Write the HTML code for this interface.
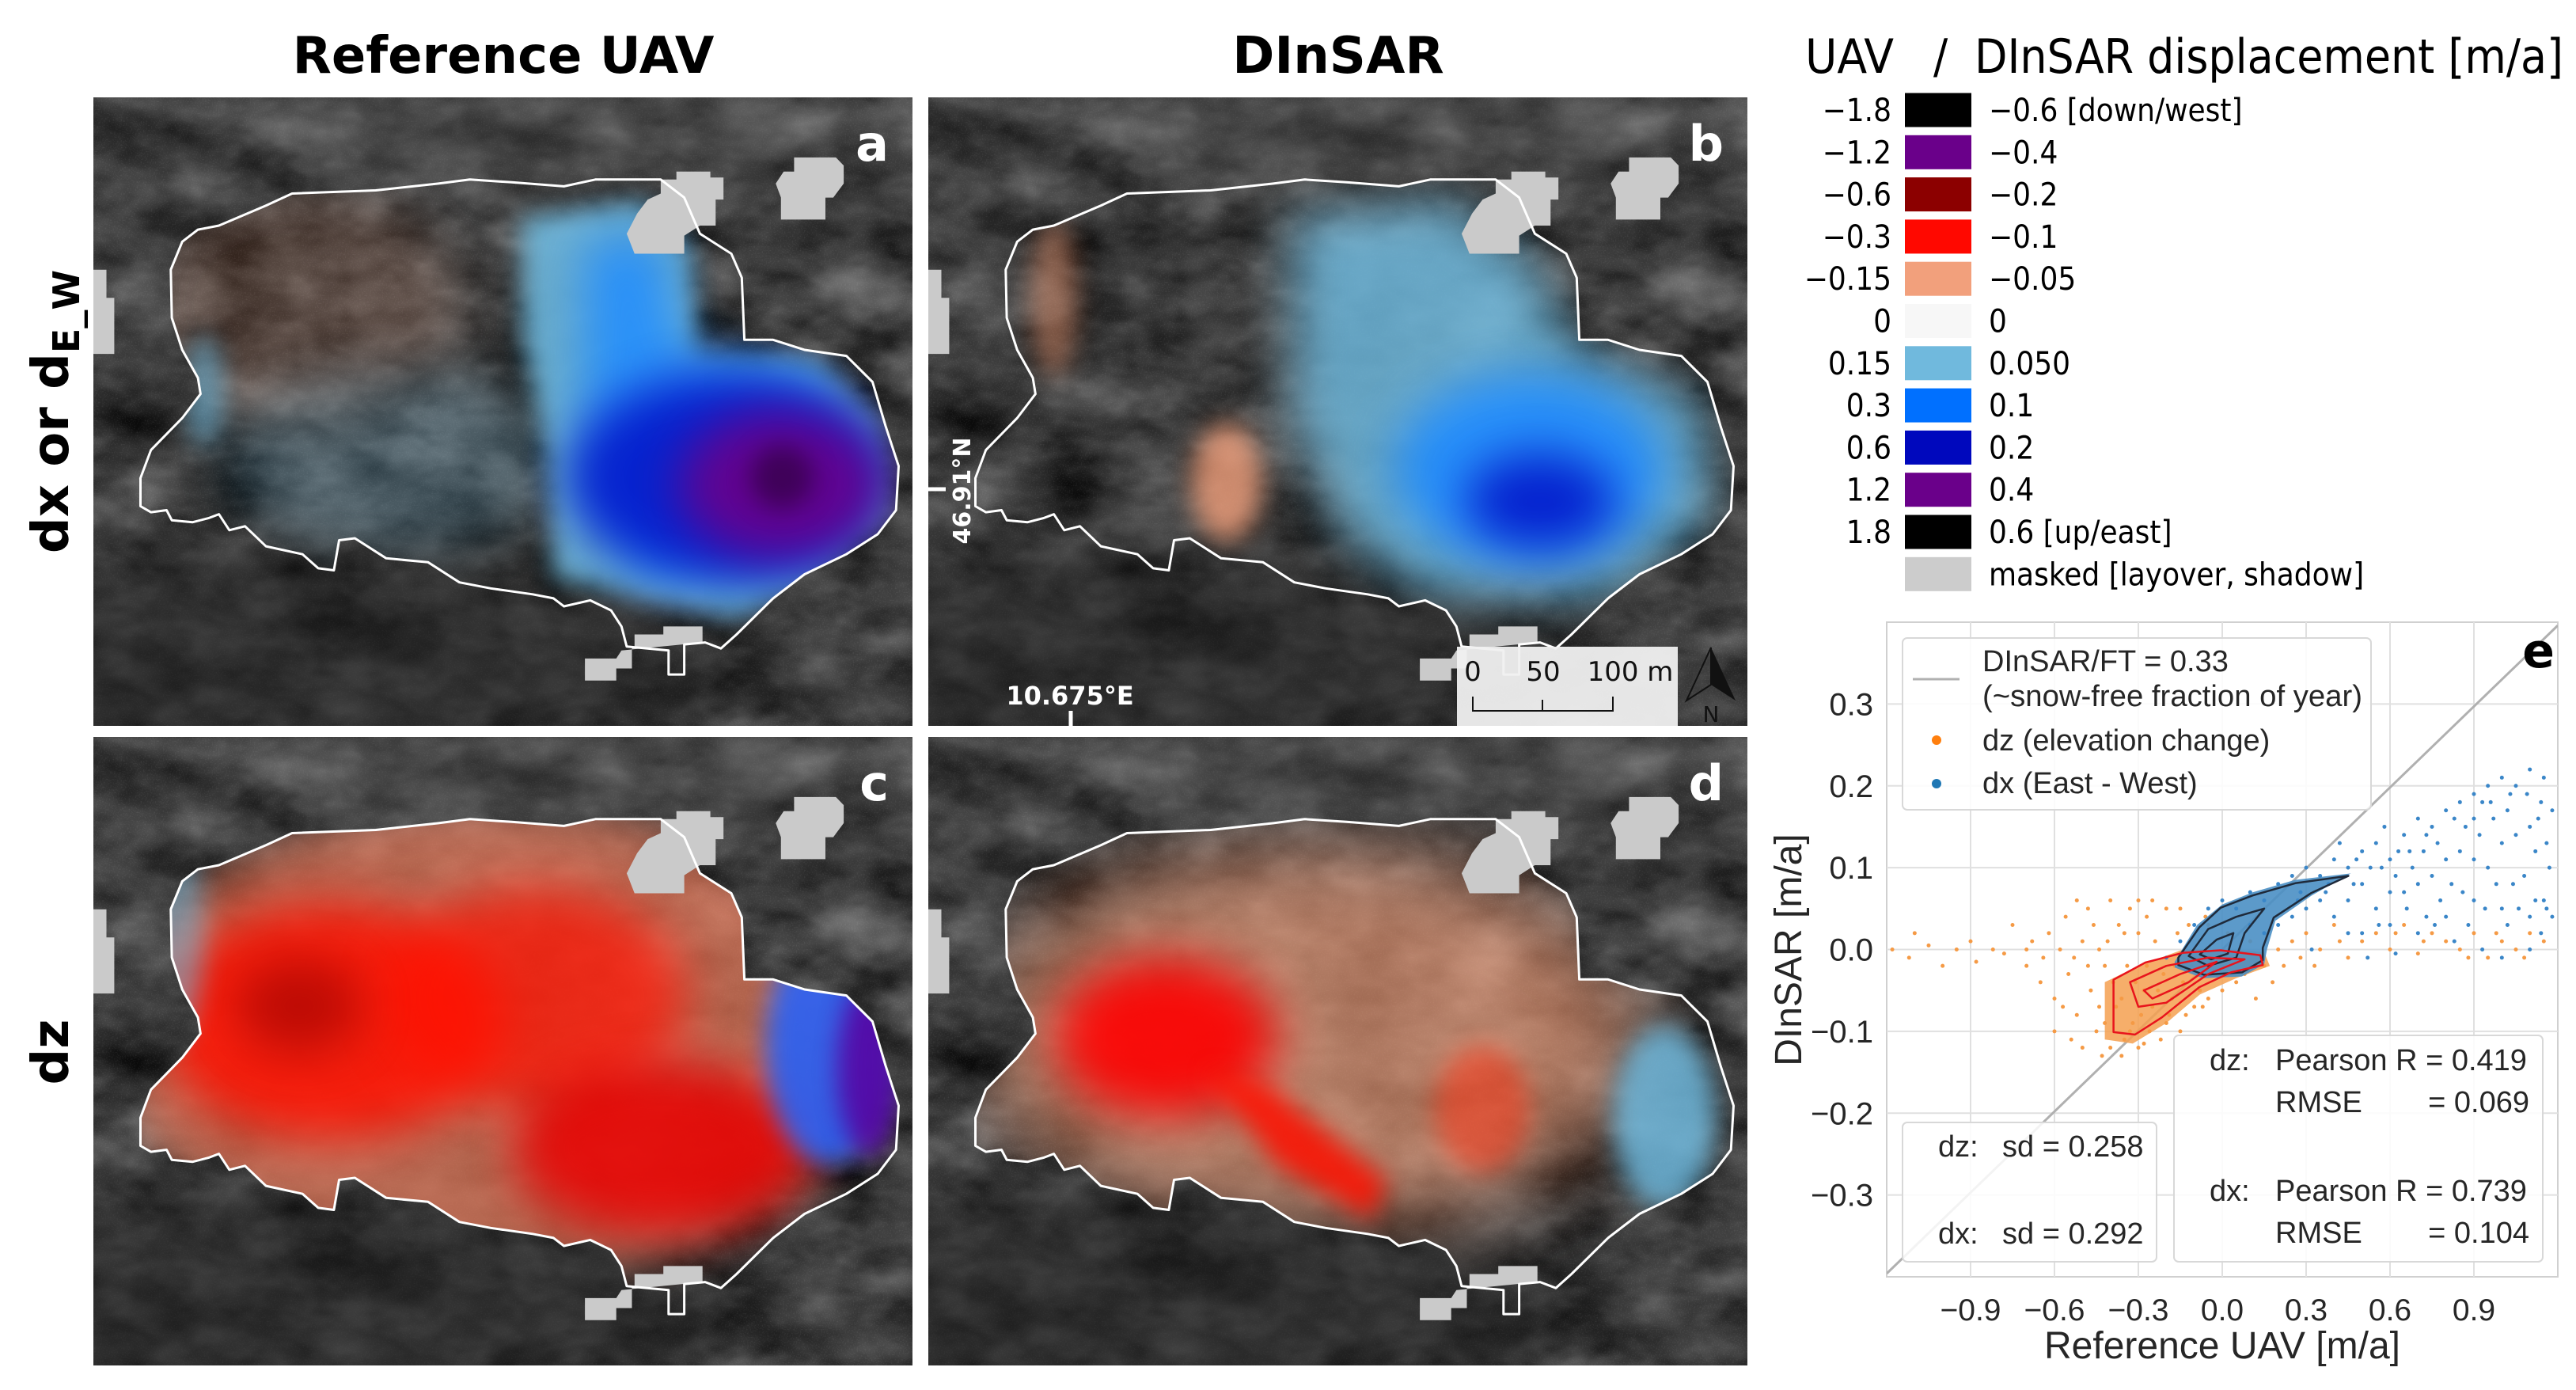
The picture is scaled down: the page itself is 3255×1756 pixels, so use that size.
<!DOCTYPE html>
<html><head><meta charset="utf-8">
<style>
html,body{margin:0;padding:0;background:#fff;}
svg{display:block;}
</style></head>
<body>
<svg id="fig" width="3255" height="1756" viewBox="0 0 3255 1756" xmlns="http://www.w3.org/2000/svg">
<defs>
<filter id="noise" x="0" y="0" width="100%" height="100%" color-interpolation-filters="sRGB">
<feTurbulence type="fractalNoise" baseFrequency="0.008 0.014" numOctaves="4" seed="7" result="t"/>
<feColorMatrix in="t" type="matrix" values="0.4 0.4 0 0 -0.17  0.4 0.4 0 0 -0.17  0.4 0.4 0 0 -0.17  0 0 0 0 1"/>
</filter>
<filter id="fine" x="0" y="0" width="100%" height="100%" color-interpolation-filters="sRGB">
<feTurbulence type="fractalNoise" baseFrequency="0.6" numOctaves="1" seed="3" result="t"/>
<feColorMatrix in="t" type="matrix" values="0 0 0 0 1  0 0 0 0 1  0 0 0 0 1  2 0 0 0 -1"/>
</filter>
<filter id="blur30" x="-100%" y="-100%" width="300%" height="300%" color-interpolation-filters="sRGB"><feGaussianBlur stdDeviation="30"/></filter>
<filter id="blur15" x="-100%" y="-100%" width="300%" height="300%" color-interpolation-filters="sRGB"><feGaussianBlur stdDeviation="15"/></filter>
<filter id="blur50" x="-100%" y="-100%" width="300%" height="300%" color-interpolation-filters="sRGB"><feGaussianBlur stdDeviation="50"/></filter>
</defs>
<g id="maps"></g>
<g id="legend"></g>
<g id="scatter"></g>
</svg>
<script>
// ---------- scatter data (panel e) ----------
const xTicks = [-0.9,-0.6,-0.3,0.0,0.3,0.6,0.9];
const yTicks = [0.3,0.2,0.1,0.0,-0.1,-0.2,-0.3];
const ftRatio = 0.33;
const dzPoints = [[-1.18,0.0],[-1.12,-0.01],[-1.05,0.005],[-1.0,-0.02],[-0.95,0.0],[-0.9,0.01],[-0.88,-0.015],[-0.82,0.0],[-0.78,-0.005],[-1.1,0.02],[-0.75,0.03],[-0.7,-0.02],[-0.68,0.01],[-0.65,-0.04],[-0.62,0.02],[-0.6,-0.06],[-0.58,0.0],[-0.56,0.04],[-0.55,-0.03],[-0.52,-0.08],[-0.5,0.01],[-0.48,0.05],[-0.47,-0.05],[-0.45,-0.1],[-0.44,0.0],[-0.42,-0.02],[-0.4,0.06],[-0.4,-0.12],[-0.38,-0.07],[-0.37,0.03],[-0.35,-0.11],[-0.34,-0.02],[-0.33,0.05],[-0.32,-0.09],[-0.3,-0.12],[-0.3,0.02],[-0.28,-0.05],[-0.27,0.04],[-0.26,-0.1],[-0.25,-0.07],[-0.24,0.01],[-0.22,-0.11],[-0.21,-0.03],[-0.2,0.05],[-0.19,-0.08],[-0.18,-0.06],[-0.16,0.02],[-0.15,-0.1],[-0.14,-0.04],[-0.12,0.03],[-0.1,-0.07],[-0.08,-0.05],[-0.06,0.04],[-0.05,-0.06],[-0.02,-0.03],[0.0,-0.05],[0.02,0.02],[0.05,-0.04],[0.08,-0.03],[0.1,0.01],[0.12,-0.06],[0.15,-0.02],[0.18,-0.04],[0.2,0.0],[0.22,-0.02],[0.25,0.01],[0.28,-0.01],[0.3,0.02],[0.35,0.0],[0.4,0.03],[0.45,-0.01],[0.5,0.01],[0.55,0.02],[0.6,0.0],[0.65,0.03],[0.7,-0.005],[0.75,0.02],[0.8,0.01],[0.85,0.0],[0.9,0.02],[0.95,-0.01],[1.0,0.01],[1.05,0.0],[1.1,0.02],[1.15,0.01],[-0.42,-0.09],[-0.36,-0.06],[-0.31,-0.04],[-0.29,-0.08],[-0.23,-0.05],[-0.17,-0.02],[-0.11,-0.02],[-0.33,-0.1],[-0.44,-0.07],[-0.46,0.03],[-0.52,0.06],[-0.25,0.06],[-0.6,-0.1],[-0.54,-0.11],[-0.5,-0.12],[-0.43,-0.13],[-0.36,-0.13],[-0.28,-0.115],[-0.2,-0.09],[-0.13,-0.08],[-0.07,-0.07],[-0.7,0.0],[-0.3,0.06],[-0.15,0.05],[-0.05,0.03],[0.03,-0.01],[-0.48,-0.02],[-0.39,-0.04],[-0.41,0.01],[-0.27,-0.02],[-0.35,0.02],[-0.53,-0.01],[-0.57,-0.07],[-0.64,-0.01],[0.33,-0.02],[0.42,0.01],[0.62,0.02],[0.72,0.01],[0.88,-0.01],[0.98,0.02],[1.08,-0.01]];
const dxPoints = [[-0.2,-0.01],[-0.15,0.01],[-0.1,0.03],[-0.05,0.05],[0.0,0.06],[0.05,0.05],[0.1,0.07],[0.15,0.06],[0.2,0.08],[0.25,0.09],[0.3,0.1],[0.35,0.09],[0.4,0.11],[0.45,0.1],[0.5,0.12],[0.55,0.13],[0.6,0.11],[0.65,0.14],[0.7,0.16],[0.75,0.15],[0.8,0.17],[0.85,0.18],[0.9,0.19],[0.95,0.2],[1.0,0.21],[1.05,0.2],[1.1,0.22],[1.15,0.21],[0.5,0.02],[0.55,0.05],[0.6,0.03],[0.65,0.07],[0.7,0.02],[0.75,0.09],[0.8,0.04],[0.85,0.12],[0.9,0.06],[0.95,0.1],[1.0,0.05],[1.05,0.14],[1.1,0.04],[1.15,0.06],[1.18,0.17],[0.45,0.06],[0.4,0.04],[0.35,0.06],[0.3,0.05],[0.32,0.0],[0.5,0.08],[0.62,0.09],[0.72,0.12],[0.82,0.08],[0.92,0.14],[1.02,0.17],[1.12,0.12],[1.0,-0.01],[1.1,0.0],[0.58,0.15],[0.68,0.1],[0.88,0.03],[0.98,0.08],[1.08,0.09],[1.17,0.1],[0.2,0.03],[0.25,0.04],[0.42,0.13],[0.78,0.06],[0.52,-0.01],[0.62,-0.005],[0.9,0.11],[1.13,0.16],[1.16,0.05],[1.12,0.06],[1.06,0.05],[0.97,0.16],[0.87,0.15],[0.77,0.13],[0.67,0.12],[0.57,0.1],[0.47,0.08],[0.37,0.07],[0.27,0.06],[0.93,0.18],[1.03,0.19],[0.73,0.04],[0.83,0.01],[0.93,0.0],[0.45,0.02],[0.15,0.02],[0.1,0.03],[0.53,0.1],[0.63,0.12],[0.73,0.14],[0.83,0.16],[0.96,0.18],[1.09,0.19],[1.14,0.18],[0.48,0.11],[0.38,0.08],[0.28,0.07],[0.6,0.07],[0.7,0.08],[0.8,0.11],[0.9,0.16],[1.0,0.13],[1.1,0.15],[1.16,0.13],[1.04,0.08],[0.94,0.05],[0.86,0.07],[0.76,0.03],[0.66,0.05],[0.56,0.03],[1.18,0.04],[1.14,0.02],[1.02,0.03]];
const dzCore = [[-0.42,-0.04],[-0.3,-0.02],[-0.14,0.0],[0.0,0.0],[0.15,-0.003],[0.17,-0.02],[0.05,-0.035],[-0.08,-0.055],[-0.2,-0.09],[-0.32,-0.115],[-0.42,-0.11]];
const dxCore = [[-0.17,-0.015],[-0.09,0.03],[0.0,0.055],[0.11,0.07],[0.26,0.085],[0.46,0.093],[0.32,0.066],[0.19,0.035],[0.16,0.0],[0.15,-0.018],[0.07,-0.033],[-0.07,-0.035],[-0.17,-0.022]];
const dxContours = [
 [[-0.157,-0.010],[-0.082,0.027],[-0.006,0.051],[0.108,0.066],[0.261,0.081],[0.451,0.090],[0.318,0.069],[0.184,0.039],[0.145,0.002],[0.145,-0.013],[0.071,-0.028],[-0.065,-0.031],[-0.157,-0.019]],
 [[-0.12,-0.008],[-0.05,0.025],[0.05,0.04],[0.15,0.05],[0.08,0.02],[0.05,-0.01],[-0.05,-0.02]],
 [[-0.08,-0.006],[-0.02,0.012],[0.04,0.02],[0.02,-0.005],[-0.04,-0.012]]];
const dzContours = [
 [[-0.389,-0.037],[-0.275,-0.016],[-0.139,-0.004],[-0.006,-0.001],[0.136,-0.007],[0.145,-0.019],[0.031,-0.028],[-0.082,-0.046],[-0.216,-0.083],[-0.312,-0.104],[-0.389,-0.101],[-0.389,-0.071]],
 [[-0.33,-0.04],[-0.2,-0.02],[-0.05,-0.01],[0.08,-0.012],[-0.05,-0.03],[-0.2,-0.065],[-0.3,-0.07]],
 [[-0.28,-0.05],[-0.15,-0.03],[-0.02,-0.015],[-0.12,-0.04],[-0.25,-0.06]]];

// ---------- colour legend data ----------
const uavLabels = ["\u22121.8","\u22121.2","\u22120.6","\u22120.3","\u22120.15","0","0.15","0.3","0.6","1.2","1.8",""];
const insarLabels = ["\u22120.6 [down/west]","\u22120.4","\u22120.2","\u22120.1","\u22120.05","0","0.050","0.1","0.2","0.4","0.6 [up/east]","masked [layover, shadow]"];
const legendColors = ["#000000","#6a008a","#8c0000","#ff0800","#f2a07c","#f7f7f7","#70b9dd","#0070ff","#0008bd","#6a008a","#000000","#cccccc"];

const NS="http://www.w3.org/2000/svg";
function mk(tag, attrs, parent){const e=document.createElementNS(NS,tag);for(const k in attrs)e.setAttribute(k,attrs[k]);if(parent)parent.appendChild(e);return e;}
function txt(parent,x,y,s,attrs){const t=mk('text',Object.assign({x:x,y:y},attrs),parent);t.textContent=s;return t;}
const svg=document.getElementById('fig');

// ---------- titles ----------
const tA=txt(svg,636,92,"Reference UAV",{"font-family":"DejaVu Sans, sans-serif","font-weight":"bold","font-size":"64","text-anchor":"middle","fill":"#000"});


const tB=txt(svg,1691,92,"DInSAR",{"font-family":"DejaVu Sans, sans-serif","font-weight":"bold","font-size":"64","text-anchor":"middle","fill":"#000"});


const r1=mk('text',{x:0,y:0,transform:"translate(86,520) rotate(-90)","font-family":"DejaVu Sans, sans-serif","font-weight":"bold","font-size":"64","text-anchor":"middle","fill":"#000"},svg);
r1.innerHTML='dx or d<tspan font-size="46" dy="14">E_W</tspan>';


const r2=txt(svg,0,0,"dz",{transform:"translate(86,1329) rotate(-90)","font-family":"DejaVu Sans, sans-serif","font-weight":"bold","font-size":"64","text-anchor":"middle","fill":"#000"});



// ---------- map panels ----------
const PW=1035, PH=794;
const Z=p=>[p[0]/1.5135,p[1]/1.975];
const outlineZ=[[240,320],[330,270],[380,240],[540,232],[660,215],[720,205],[800,212],[900,222],[960,205],[1085,205],[1130,250],[1160,340],[1220,390],[1240,450],[1245,605],[1300,605],[1360,630],[1440,645],[1490,710],[1515,820],[1540,920],[1535,1030],[1500,1090],[1440,1140],[1360,1190],[1300,1250],[1230,1340],[1200,1375],[1170,1360],[1130,1365],[1130,1440],[1100,1440],[1100,1380],[1020,1370],[1010,1320],[990,1280],[950,1255],[900,1270],[880,1250],[840,1240],[760,1225],[700,1210],[640,1160],[560,1150],[500,1100],[470,1105],[460,1180],[430,1175],[400,1140],[330,1120],[290,1070],[260,1080],[240,1040],[220,1050],[190,1060],[150,1055],[140,1030],[110,1035],[90,1020],[90,950],[110,880],[170,800],[205,740],[200,700],[170,630],[150,550],[148,430],[170,360],[200,330]];
const outline=outlineZ.map(Z);
const outlineStr=outline.map(p=>p[0].toFixed(1)+','+p[1].toFixed(1)).join(' ');
const maskedZ=[
 [[1115,185],[1180,185],[1180,200],[1205,200],[1205,255],[1190,255],[1190,320],[1160,320],[1130,345],[1130,390],[1035,390],[1020,340],[1040,290],[1060,255],[1085,240],[1085,205],[1115,205]],
 [[1340,150],[1420,150],[1435,170],[1435,215],[1415,250],[1400,250],[1400,305],[1315,305],[1315,250],[1305,215],[1320,185],[1340,185]],
 [[1035,1340],[1090,1340],[1090,1320],[1165,1320],[1165,1360],[1010,1380],[1000,1400],[940,1400],[940,1455],[1000,1455],[1000,1425],[1030,1425],[1030,1370],[1035,1370]],
 [[0,430],[25,430],[25,500],[40,500],[40,640],[0,640]]];
const masked=maskedZ.map(poly=>poly.map(Z));

const panels=[
 {id:'a',x:118,y:123,name:'map-uav-dx'},
 {id:'b',x:1173,y:123,name:'map-dinsar-dx'},
 {id:'c',x:118,y:931,name:'map-uav-dz'},
 {id:'d',x:1173,y:931,name:'map-dinsar-dz'}];
const blobs={
 a:[{t:'e',cx:260,cy:260,rx:200,ry:150,f:'#f2a07c',o:0.18,b:'blur30'},
    {t:'e',cx:380,cy:460,rx:220,ry:120,f:'#70b9dd',o:0.22,b:'blur30'},
    {t:'e',cx:140,cy:370,rx:25,ry:70,f:'#70b9dd',o:0.6,b:'blur15'},
    {t:'poly',pts:[[820,300],[1050,260],[1140,380],[1150,640],[1380,660],[1500,800],[1520,1050],[1340,1230],[1230,1300],[1000,1230],[880,1200],[870,900],[820,600]].map(Z),f:'#70b9dd',o:0.9,b:'blur15'},
    {t:'poly',pts:[[940,360],[1080,340],[1130,640],[1380,680],[1480,900],[1400,1200],[1050,1200],[930,1000]].map(Z),f:'#1f8cff',o:0.85,b:'blur30'},
    {t:'e',cx:800,cy:480,rx:200,ry:130,f:'#0010c8',o:0.85,b:'blur30'},
    {t:'e',cx:870,cy:490,rx:130,ry:95,f:'#6a008a',o:0.9,b:'blur30'},
    {t:'e',cx:870,cy:480,rx:40,ry:40,f:'#2a0035',o:0.6,b:'blur15'}],
 b:[{t:'poly',pts:[[700,300],[1000,260],[1150,400],[1240,620],[1480,760],[1500,1050],[1300,1250],[950,1240],[800,1100],[700,800]].map(Z),f:'#70b9dd',o:0.85,b:'blur30'},
    {t:'e',cx:760,cy:470,rx:170,ry:120,f:'#1f8cff',o:0.9,b:'blur30'},
    {t:'e',cx:773,cy:510,rx:95,ry:60,f:'#0010c8',o:0.85,b:'blur30'},
    {t:'e',cx:377,cy:486,rx:45,ry:75,f:'#f2a07c',o:0.8,b:'blur15'},
    {t:'e',cx:159,cy:253,rx:30,ry:100,f:'#f2a07c',o:0.5,b:'blur15'}],
 c:[{t:'e',cx:500,cy:380,rx:480,ry:300,f:'#f08060',o:0.7,b:'blur30'},
    {t:'e',cx:300,cy:360,rx:220,ry:150,f:'#ff1000',o:0.85,b:'blur30'},
    {t:'e',cx:560,cy:330,rx:190,ry:140,f:'#ff1000',o:0.7,b:'blur30'},
    {t:'e',cx:720,cy:520,rx:190,ry:110,f:'#e80000',o:0.85,b:'blur30'},
    {t:'e',cx:260,cy:340,rx:80,ry:60,f:'#9a0000',o:0.6,b:'blur30'},
    {t:'e',cx:930,cy:390,rx:80,ry:150,f:'#2060ff',o:0.85,b:'blur15'},
    {t:'e',cx:980,cy:420,rx:40,ry:110,f:'#5a00a0',o:0.85,b:'blur15'},
    {t:'e',cx:100,cy:250,rx:40,ry:140,f:'#70b9dd',o:0.5,b:'blur15'}],
 d:[{t:'e',cx:480,cy:380,rx:420,ry:240,f:'#f2a07c',o:0.65,b:'blur50'},
    {t:'e',cx:300,cy:380,rx:140,ry:100,f:'#ff0000',o:0.9,b:'blur30'},
    {t:'poly',pts:[[350,420],[430,440],[580,560],[560,610],[440,540]],f:'#ff1000',o:0.85,b:'blur15'},
    {t:'e',cx:700,cy:470,rx:60,ry:80,f:'#ff2000',o:0.45,b:'blur15'},
    {t:'e',cx:930,cy:480,rx:65,ry:115,f:'#70b9dd',o:0.85,b:'blur15'},
    {t:'e',cx:600,cy:780,rx:120,ry:60,f:'#f2a07c',o:0.8,b:'blur15'}]
};
const maps=document.getElementById('maps');
panels.forEach(P=>{
  const g=mk('g',{transform:`translate(${P.x},${P.y})`},maps);
  
  
  mk('clipPath',{id:'clip'+P.id},g).appendChild(mk('rect',{x:0,y:0,width:PW,height:PH}));
  mk('clipPath',{id:'poly'+P.id},g).appendChild(mk('polygon',{points:outlineStr}));
  const inner=mk('g',{'clip-path':`url(#clip${P.id})`},g);
  mk('rect',{x:0,y:0,width:PW,height:PH,fill:'#444'},inner);
  mk('rect',{x:0,y:0,width:PW,height:PH,filter:'url(#noise)'},inner);
  mk('rect',{x:0,y:0,width:PW,height:PH,filter:'url(#fine)',opacity:0.12},inner);
  mk('ellipse',{cx:300,cy:720,rx:500,ry:150,fill:'#1e1e1e',opacity:0.5,filter:'url(#blur50)'},inner);
  mk('ellipse',{cx:600,cy:40,rx:400,ry:80,fill:'#6a6a6a',opacity:0.3,filter:'url(#blur50)'},inner);
  const bl=mk('g',{'clip-path':`url(#poly${P.id})`},inner);
  blobs[P.id].forEach(B=>{
    let e;
    if(B.t==='e') e=mk('ellipse',{cx:B.cx,cy:B.cy,rx:B.rx,ry:B.ry,fill:B.f,opacity:B.o},bl);
    else e=mk('polygon',{points:B.pts.map(p=>p.join(',')).join(' '),fill:B.f,opacity:B.o},bl);
    if(B.b) e.setAttribute('filter',`url(#${B.b})`);
  });
  masked.forEach(m=>{
    const mp=mk('polygon',{points:m.map(p=>p.map(v=>v.toFixed(1)).join(',')).join(' '),fill:'#cacaca'},inner);
    
    
  });
  const ol=mk('polygon',{points:outlineStr,fill:'none',stroke:'#fff','stroke-width':3,'stroke-linejoin':'round'},inner);
  
  
  const L=txt(g,PW-30,80,P.id,{"font-family":"DejaVu Sans, sans-serif","font-weight":"bold","font-size":"62","text-anchor":"end","fill":"#fff"});
  
  
});
// annotations on panel b
(function(){
  const g=mk('g',{},maps);
  
  
  mk('line',{x1:1173,y1:618,x2:1195,y2:618,stroke:'#fff','stroke-width':5},g);
  const lat=txt(g,0,0,"46.91°N",{transform:"translate(1226,620) rotate(-90)","font-family":"DejaVu Sans, sans-serif","font-weight":"bold","font-size":"30","text-anchor":"middle","fill":"#fff"});
  
  
  mk('line',{x1:1353,y1:898,x2:1353,y2:917,stroke:'#fff','stroke-width':5},g);
  const lon=txt(g,1352,890,"10.675°E",{"font-family":"DejaVu Sans, sans-serif","font-weight":"bold","font-size":"32","text-anchor":"middle","fill":"#fff"});
  
  
  const sb=mk('g',{},g);
  
  
  mk('rect',{x:1841,y:817,width:279,height:100,fill:'#f0f0f0',opacity:0.95},sb);
  txt(sb,1861,860,"0",{"font-family":"DejaVu Sans, sans-serif","font-size":"34","text-anchor":"middle","fill":"#111"});
  txt(sb,1950,860,"50",{"font-family":"DejaVu Sans, sans-serif","font-size":"34","text-anchor":"middle","fill":"#111"});
  txt(sb,2060,860,"100 m",{"font-family":"DejaVu Sans, sans-serif","font-size":"34","text-anchor":"middle","fill":"#111"});
  mk('polyline',{points:"1861,880 1861,898 2038,898 2038,880",fill:'none',stroke:'#111','stroke-width':2},sb);
  mk('line',{x1:1949,y1:884,x2:1949,y2:898,stroke:'#111','stroke-width':2},sb);
  const na=mk('g',{},g);
  
  
  mk('polygon',{points:"2162,818 2131,885 2162,865",fill:'none',stroke:'#111','stroke-width':2},na);
  mk('polygon',{points:"2162,818 2193,885 2162,865",fill:'#111'},na);
  txt(na,2162,912,"N",{"font-family":"DejaVu Sans, sans-serif","font-size":"28","text-anchor":"middle","fill":"#111"});
})();

// ---------- colour legend ----------
(function(){
  const g=document.getElementById('legend');
  
  
  const FL={"font-family":"DejaVu Sans Condensed, DejaVu Sans, sans-serif","fill":"#000"};
  const t1=txt(g,2281,92,"UAV",Object.assign({"font-size":"60",textLength:112,lengthAdjust:"spacingAndGlyphs"},FL));
  
  
  txt(g,2443,92,"/",Object.assign({"font-size":"60"},FL));
  const t2=txt(g,2495,92,"DInSAR displacement [m/a]",Object.assign({"font-size":"60",textLength:744,lengthAdjust:"spacingAndGlyphs"},FL));
  
  
  for(let i=0;i<legendColors.length;i++){
    const cy=139+i*53.3;
    const row=mk('g',{},g);
    
    
    mk('rect',{x:2407,y:cy-21.5,width:84,height:43,fill:legendColors[i]},row);
    txt(row,2390,cy+14,uavLabels[i],Object.assign({"font-size":"40","text-anchor":"end"},FL));
    txt(row,2513,cy+14,insarLabels[i],Object.assign({"font-size":"40"},FL));
  }
})();

// ---------- scatter ----------
(function(){
  const g=document.getElementById('scatter');
  
  
  const L=2384,R=3232,T=786,B=1613, xmin=-1.2,xmax=1.2,ymin=-0.4,ymax=0.4;
  const X=v=>L+(v-xmin)/(xmax-xmin)*(R-L);
  const Y=v=>B-(v-ymin)/(ymax-ymin)*(B-T);
  mk('rect',{x:L,y:T,width:R-L,height:B-T,fill:'#fff',stroke:'#d0d0d0','stroke-width':2},g);
  const F={"font-family":"Liberation Sans, Arial, sans-serif","fill":"#262626"};
  xTicks.forEach(v=>{
    const l=mk('line',{x1:X(v),y1:T,x2:X(v),y2:B,stroke:'#e0e0e0','stroke-width':2},g);
    
    
    const t=txt(g,X(v),1668,(v<0?"\u2212":"")+Math.abs(v).toFixed(1),Object.assign({"font-size":"39","text-anchor":"middle"},F));
    
    
  });
  yTicks.forEach(v=>{
    const l=mk('line',{x1:L,y1:Y(v),x2:R,y2:Y(v),stroke:'#e0e0e0','stroke-width':2},g);
    
    
    const t=txt(g,2367,Y(v)+14,(v<0?"\u2212":"")+Math.abs(v).toFixed(1),Object.assign({"font-size":"40","text-anchor":"end"},F));
    
    
  });
  const xl=txt(g,2808,1716,"Reference UAV [m/a]",Object.assign({"font-size":"48","text-anchor":"middle"},F));
  
  
  const yl=txt(g,0,0,"DInSAR [m/a]",Object.assign({"font-size":"48","text-anchor":"middle",transform:"translate(2276,1200) rotate(-90)"},F));
  
  
  const pl=mk('g',{'clip-path':'url(#scClip)'},g);
  mk('clipPath',{id:'scClip'},g).appendChild(mk('rect',{x:L,y:T,width:R-L,height:B-T}));
  const ref=mk('line',{x1:X(xmin),y1:Y(xmin*ftRatio),x2:X(xmax),y2:Y(xmax*ftRatio),stroke:'#b0b0b0','stroke-width':3},pl);
  
  
  const path=pts=>pts.map(p=>X(p[0]).toFixed(1)+','+Y(p[1]).toFixed(1)).join(' ');
  const c1=mk('polygon',{points:path(dzCore),fill:'#f5a050',opacity:0.85},pl);
  
  
  dzPoints.forEach(p=>{
    const c=mk('circle',{cx:X(p[0]),cy:Y(p[1]),r:2.5,fill:'#f59a45'},pl);
    
    
  });
  const c2=mk('polygon',{points:path(dxCore),fill:'#4a8fc4',opacity:0.9},pl);
  
  
  dxPoints.forEach(p=>{
    const c=mk('circle',{cx:X(p[0]),cy:Y(p[1]),r:2.5,fill:'#3a86c8'},pl);
    
    
  });
  dxContours.forEach(cn=>{
    const c=mk('polygon',{points:path(cn),fill:'none',stroke:'#1f2a3a','stroke-width':2.5,'stroke-linejoin':'round'},pl);
    
    
  });
  dzContours.forEach(cn=>{
    const c=mk('polygon',{points:path(cn),fill:'none',stroke:'#e8141c','stroke-width':2.5,'stroke-linejoin':'round'},pl);
    
    
  });
  // legend box
  const lg=mk('g',{},g);
  
  
  mk('rect',{x:2404,y:806,width:592,height:217,rx:6,fill:'#fff','fill-opacity':0.85,stroke:'#d8d8d8','stroke-width':2},lg);
  mk('line',{x1:2417,y1:858,x2:2476,y2:858,stroke:'#b0b0b0','stroke-width':3},lg);
  txt(lg,2505,848,"DInSAR/FT = 0.33",Object.assign({"font-size":"38"},F));
  txt(lg,2505,892,"(~snow-free fraction of year)",Object.assign({"font-size":"38",textLength:480,lengthAdjust:"spacingAndGlyphs"},F));
  mk('circle',{cx:2447,cy:935,r:6,fill:'#ff7f0e'},lg);
  txt(lg,2505,948,"dz (elevation change)",Object.assign({"font-size":"38"},F));
  mk('circle',{cx:2447,cy:990,r:6,fill:'#1f77b4'},lg);
  txt(lg,2505,1002,"dx (East - West)",Object.assign({"font-size":"38"},F));
  const e=txt(g,3228,843,"e",{"font-family":"DejaVu Sans, sans-serif","font-weight":"bold","font-size":"60","text-anchor":"end","fill":"#000"});
  
  
  // stats boxes
  const s1=mk('g',{},g);
  
  
  mk('rect',{x:2747,y:1308,width:466,height:286,rx:6,fill:'#fff','fill-opacity':0.85,stroke:'#d8d8d8','stroke-width':2},s1);
  const st=[["dz:",1352,"Pearson R = 0.419"],["",1405,"RMSE"],["dx:",1517,"Pearson R = 0.739"],["",1570,"RMSE"]];
  st.forEach(r=>{
    if(r[0]) txt(s1,2792,r[1],r[0],Object.assign({"font-size":"38"},F));
    txt(s1,2875,r[1],r[2],Object.assign({"font-size":"38"},F));
  });
  txt(s1,3196,1405,"= 0.069",Object.assign({"font-size":"38","text-anchor":"end"},F));
  txt(s1,3196,1570,"= 0.104",Object.assign({"font-size":"38","text-anchor":"end"},F));
  const s2=mk('g',{},g);
  
  
  mk('rect',{x:2404,y:1418,width:321,height:176,rx:6,fill:'#fff','fill-opacity':0.85,stroke:'#d8d8d8','stroke-width':2},s2);
  txt(s2,2449,1461,"dz:",Object.assign({"font-size":"38"},F));
  txt(s2,2530,1461,"sd = 0.258",Object.assign({"font-size":"38"},F));
  txt(s2,2449,1571,"dx:",Object.assign({"font-size":"38"},F));
  txt(s2,2530,1571,"sd = 0.292",Object.assign({"font-size":"38"},F));
})();
</script>
</body></html>
